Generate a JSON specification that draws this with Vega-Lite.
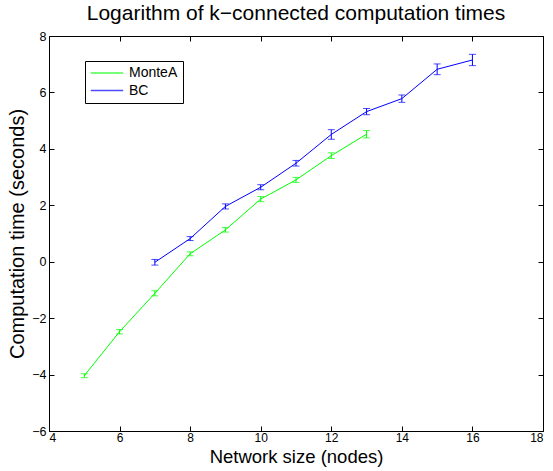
{
  "$schema": "https://vega.github.io/schema/vega-lite/v6.json",
  "autosize": "none",
  "width": 494,
  "height": 395,
  "padding": {"left": 49, "top": 36, "right": 10, "bottom": 40},
  "background": "white",
  "title": {
    "text": "Logarithm of k\u2212connected computation times",
    "font": "Liberation Sans",
    "fontSize": 21,
    "fontWeight": "normal",
    "color": "black",
    "offset": 6
  },
  "config": {
    "view": {"stroke": "black", "strokeWidth": 1},
    "font": "Liberation Sans"
  },
  "data": {
    "values": [
      {"n": 5, "t": -4.04, "err": 0.07, "method": "MonteA"},
      {"n": 6, "t": -2.48, "err": 0.08, "method": "MonteA"},
      {"n": 7, "t": -1.12, "err": 0.09, "method": "MonteA"},
      {"n": 8, "t": 0.28, "err": 0.07, "method": "MonteA"},
      {"n": 9, "t": 1.13, "err": 0.08, "method": "MonteA"},
      {"n": 10, "t": 2.22, "err": 0.09, "method": "MonteA"},
      {"n": 11, "t": 2.9, "err": 0.09, "method": "MonteA"},
      {"n": 12, "t": 3.76, "err": 0.1, "method": "MonteA"},
      {"n": 13, "t": 4.52, "err": 0.13, "method": "MonteA"},
      {"n": 7, "t": -0.02, "err": 0.1, "method": "BC"},
      {"n": 8, "t": 0.82, "err": 0.07, "method": "BC"},
      {"n": 9, "t": 1.96, "err": 0.09, "method": "BC"},
      {"n": 10, "t": 2.64, "err": 0.09, "method": "BC"},
      {"n": 11, "t": 3.49, "err": 0.1, "method": "BC"},
      {"n": 12, "t": 4.51, "err": 0.17, "method": "BC"},
      {"n": 13, "t": 5.32, "err": 0.11, "method": "BC"},
      {"n": 14, "t": 5.78, "err": 0.13, "method": "BC"},
      {"n": 15, "t": 6.82, "err": 0.19, "method": "BC"},
      {"n": 16, "t": 7.15, "err": 0.2, "method": "BC"}
    ]
  },
  "resolve": {"axis": {"x": "independent", "y": "independent"}},
  "layer": [
    {
      "mark": {"type": "line", "strokeWidth": 1, "clip": true},
      "encoding": {
        "x": {
          "field": "n", "type": "quantitative",
          "scale": {"domain": [4, 18], "nice": false, "zero": false},
          "axis": {
            "title": "Network size (nodes)", "values": [4, 6, 8, 10, 12, 14, 16, 18],
            "grid": false, "domain": false, "tickSize": -5, "tickColor": "black",
            "labelPadding": 6, "labelFontSize": 12, "labelColor": "black",
            "titleFontSize": 18.5, "titleFontWeight": "normal", "titleColor": "black", "titlePadding": 4
          }
        },
        "y": {
          "field": "t", "type": "quantitative",
          "scale": {"domain": [-6, 8], "nice": false, "zero": false},
          "axis": {
            "title": "Computation time (seconds)", "values": [-6, -4, -2, 0, 2, 4, 6, 8],
            "grid": false, "domain": false, "tickSize": -5, "tickColor": "black",
            "labelPadding": 8, "labelFontSize": 12.5, "labelColor": "black",
            "titleFontSize": 20, "titleFontWeight": "normal", "titleColor": "black", "titlePadding": 4
          }
        },
        "color": {
          "field": "method", "type": "nominal",
          "scale": {"domain": ["MonteA", "BC"], "range": ["#00ff00", "#0000ff"]},
          "legend": {
            "title": null, "orient": "none", "legendX": 36, "legendY": 25,
            "symbolType": "stroke", "symbolSize": 1050, "symbolStrokeWidth": 1.5,
            "clipHeight": 14,
            "labelFontSize": 14, "labelColor": "black", "labelOffset": 5,
            "strokeColor": "black", "fillColor": "white", "padding": 5, "rowPadding": 3.6
          }
        }
      }
    },
    {
      "mark": {"type": "errorbar", "ticks": {"size": 7}, "thickness": 1},
      "encoding": {
        "x": {"field": "n", "type": "quantitative",
          "axis": {"orient": "top", "title": null, "labels": false, "values": [4, 6, 8, 10, 12, 14, 16, 18],
            "grid": false, "domain": false, "tickSize": -5, "tickColor": "black"}},
        "y": {"field": "t", "type": "quantitative",
          "axis": {"orient": "right", "title": null, "labels": false, "values": [-6, -4, -2, 0, 2, 4, 6, 8],
            "grid": false, "domain": false, "tickSize": -5, "tickColor": "black"}},
        "yError": {"field": "err"},
        "color": {"field": "method", "type": "nominal"}
      }
    }
  ]
}
